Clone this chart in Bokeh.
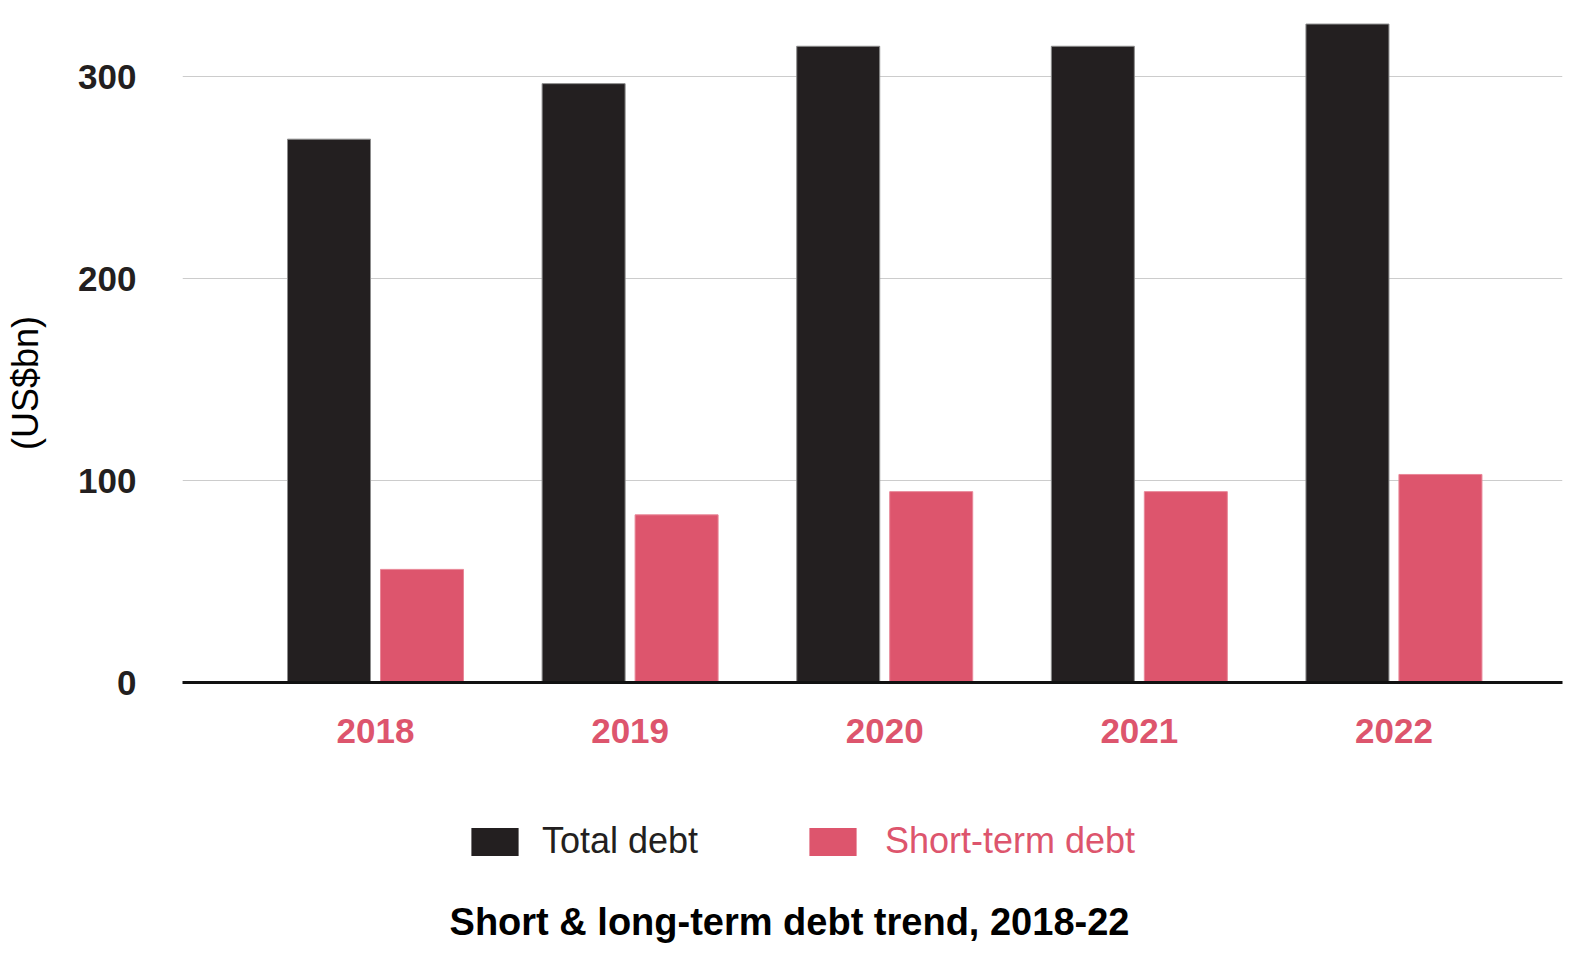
import math
from bokeh.plotting import figure
from bokeh.layouts import column, row
from bokeh.models import (ColumnDataSource, Range1d, FixedTicker, Legend, LegendItem,
                          Label)
from bokeh.embed import file_html
from bokeh.resources import INLINE

# ---- data ----
years = [2018, 2019, 2020, 2021, 2022]
total_debt = [269, 296.5, 315, 315, 326]
short_term_debt = [56, 83, 94.5, 94.5, 103]
y_ticks = [0, 100, 200, 300]
title_text = "Short & long-term debt trend, 2018-22"
y_label_text = "(US$bn)"
series_names = ["Total debt", "Short-term debt"]

BLACK = "#231f20"
PINK = "#dd556d"
FONT = "Liberation Sans"
YL_W = 60
W = 1512


def blank(fig):
    fig.outline_line_color = None
    fig.axis.visible = False
    fig.grid.visible = False


# ---- narrow strip on the left carrying the y-axis title ----
yl = figure(width=YL_W, height=762, output_backend="svg", toolbar_location=None,
            x_range=Range1d(0, 1), y_range=Range1d(0, 1),
            min_border_left=0, min_border_right=0, min_border_top=8, min_border_bottom=80)
blank(yl)
yl.add_layout(Label(x=25, y=299.5, x_units="screen", y_units="screen", text=y_label_text,
                    text_font=FONT, text_font_size="36px", text_color="#000000",
                    angle=math.pi / 2, text_align="center", text_baseline="middle"))

# ---- main chart ----
p = figure(width=W, height=762, output_backend="svg", toolbar_location=None,
           x_range=Range1d(2017.242, 2022.662), y_range=Range1d(0, 333.7),
           min_border_left=182 - YL_W, min_border_right=10, min_border_top=8,
           min_border_bottom=80)
p.outline_line_color = None

off = 0.1826
bw = 0.326
src = ColumnDataSource(dict(
    x_total=[y - off for y in years],
    x_short=[y + off for y in years],
    total=total_debt,
    short=short_term_debt,
))
p.vbar(x="x_total", top="total", width=bw, bottom=0, source=src,
       fill_color=BLACK, line_color="#8c8c8c", line_width=1)
p.vbar(x="x_short", top="short", width=bw, bottom=0, source=src,
       fill_color=PINK, line_color="#e88798", line_width=1)

p.xaxis.ticker = FixedTicker(ticks=years)
p.xaxis.major_label_text_color = PINK
p.xaxis.major_label_text_font = FONT
p.xaxis.major_label_text_font_style = "bold"
p.xaxis.major_label_text_font_size = "35px"
p.xaxis.major_tick_line_color = None
p.xaxis.minor_tick_line_color = None
p.xaxis.major_label_standoff = 30
p.xaxis.axis_line_color = "#111111"
p.xaxis.axis_line_width = 3

p.yaxis.ticker = FixedTicker(ticks=y_ticks)
p.yaxis.major_label_text_color = BLACK
p.yaxis.major_label_text_font = FONT
p.yaxis.major_label_text_font_style = "bold"
p.yaxis.major_label_text_font_size = "35px"
p.yaxis.major_tick_line_color = None
p.yaxis.minor_tick_line_color = None
p.yaxis.axis_line_color = None
p.yaxis.major_label_standoff = 40

p.xgrid.grid_line_color = None
p.ygrid.grid_line_color = "#cccccc"
p.ygrid.grid_line_width = 1
p.ygrid.ticker = FixedTicker(ticks=y_ticks[1:])

# ---- bottom strip: legend and caption ----
q = figure(width=W, height=198, output_backend="svg", toolbar_location=None,
           x_range=Range1d(0, 1), y_range=Range1d(0, 1),
           min_border_left=0, min_border_right=0, min_border_top=0, min_border_bottom=0)
blank(q)

nan = float("nan")
proxy = ColumnDataSource(dict(x=[nan], top=[nan]))
d1 = q.vbar(x="x", top="top", width=0.1, source=proxy, fill_color=BLACK, line_color=None)
d2 = q.vbar(x="x", top="top", width=0.1, source=proxy, fill_color=PINK, line_color=None)

for r, name, color, lx, st in [(d1, series_names[0], BLACK, 283, 18),
                               (d2, series_names[1], PINK, 621, 23)]:
    lg = Legend(items=[LegendItem(label=name, renderers=[r])], location=(lx, 98),
                orientation="horizontal", padding=0, margin=0, spacing=0,
                border_line_color=None, background_fill_alpha=0,
                glyph_width=59, glyph_height=35, label_height=28,
                label_standoff=st, label_text_font=FONT,
                label_text_font_size="36px", label_text_color=color)
    q.add_layout(lg, "center")

q.add_layout(Label(x=607, y=39, x_units="screen", y_units="screen", text=title_text,
                   text_font=FONT, text_font_style="bold", text_font_size="38px",
                   text_color="#000000", text_align="center", text_baseline="alphabetic"))

layout = row(yl, column(p, q, spacing=0), spacing=0)
open("out.html", "w").write(file_html(layout, INLINE))
